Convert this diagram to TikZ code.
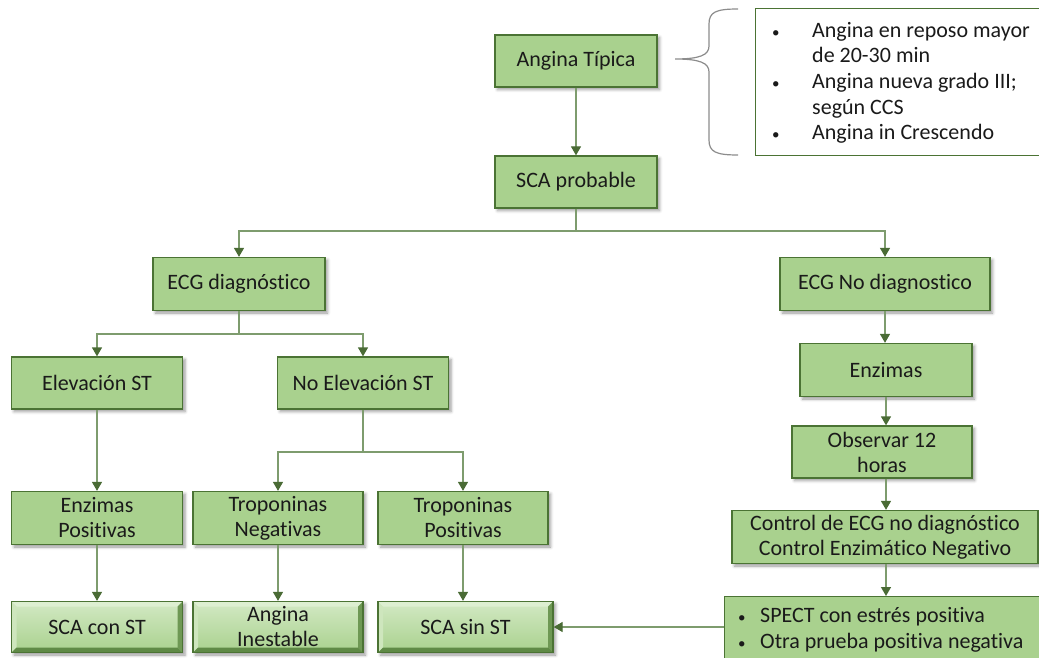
\documentclass[tikz,border=0pt]{standalone}
\usepackage{fontspec}
\setmainfont{Carlito}[Ligatures=NoCommon]
\usetikzlibrary{arrows.meta,shadows.blur,calc}

\definecolor{boxfill}{HTML}{A9D18E}
\definecolor{boxline}{HTML}{4B7334}
\definecolor{wire}{HTML}{7E9C6E}
\definecolor{tipc}{HTML}{4A6B35}
\definecolor{bevhi}{HTML}{DDEFD1}
\definecolor{bevlo}{HTML}{5F8A46}
\definecolor{braceclr}{HTML}{8C8C8C}
\definecolor{ink}{HTML}{1A1A1A}

\newcommand{\smallbul}{{\fontsize{15}{15}\selectfont\textbullet}}

\tikzset{
  txt/.style={font=\fontsize{22}{25}\selectfont, text=ink},
  gbox/.style={txt, rectangle, fill=boxfill, draw=boxline, line width=1.3pt,
    align=center, inner sep=0pt,
    blur shadow={shadow xshift=2.5pt, shadow yshift=-2.5pt,
      shadow blur radius=3pt, shadow opacity=40}},
  bevbox/.style={gbox, path picture={
    \coordinate (bsw) at (path picture bounding box.south west);
    \coordinate (bse) at (path picture bounding box.south east);
    \coordinate (bnw) at (path picture bounding box.north west);
    \coordinate (bne) at (path picture bounding box.north east);
    \fill[top color=bevhi!80!boxfill, bottom color=boxfill] (bsw) rectangle (bne);
    \fill[bevhi] (bnw) -- (bne) -- ([shift={(-5pt,-5pt)}]bne)
      -- ([shift={(5pt,-5pt)}]bnw) -- cycle;
    \fill[bevhi!70!boxfill] (bnw) -- ([shift={(5pt,-5pt)}]bnw)
      -- ([shift={(5pt,5pt)}]bsw) -- (bsw) -- cycle;
    \fill[bevlo!80!boxfill] (bne) -- (bse) -- ([shift={(-5pt,5pt)}]bse)
      -- ([shift={(-5pt,-5pt)}]bne) -- cycle;
    \fill[bevlo] (bsw) -- (bse) -- ([shift={(-5pt,5pt)}]bse)
      -- ([shift={(5pt,5pt)}]bsw) -- cycle;
  }},
  link/.style={draw=wire, line width=1.3pt},
  arr/.style={link, -{Triangle[width=10pt,length=9pt,fill=tipc,color=tipc]}},
}

\begin{document}
\begin{tikzpicture}[x=1pt, y=-1pt]
\useasboundingbox (0,0) rectangle (1039,658);
\clip (0,0) rectangle (1039,658);

% top of the flow
\node[gbox, minimum width=162pt, minimum height=52pt] (at) at (576,61) {Angina Típica};
\node[gbox, minimum width=162pt, minimum height=52pt] (sca) at (576,182) {SCA probable};

% criteria box with its brace
\draw[braceclr, line width=1.2pt]
  (738,9) .. controls (716,9) and (709,12) .. (709,24) -- (709,46)
  .. controls (709,55) and (700,59) .. (675,59)
  .. controls (700,59) and (709,63) .. (709,72) -- (709,140)
  .. controls (709,152) and (716,155) .. (738,155);
\node[draw=boxline, line width=1.3pt, fill=white, anchor=north west, inner sep=0pt,
      minimum width=300pt, minimum height=147pt] (crit) at (755,8) {};
\node[txt, font=\fontsize{22}{25.7}\selectfont, anchor=north west, inner sep=0pt, align=left]
  (crittext) at (772,19) {%
  \strut\makebox[40pt][l]{\smallbul}Angina en reposo mayor\\
  \strut\hspace*{40pt}de 20-30 min\\
  \strut\makebox[40pt][l]{\smallbul}Angina nueva grado III;\\
  \strut\hspace*{40pt}según CCS\\
  \strut\makebox[40pt][l]{\smallbul}Angina in Crescendo};

% second level
\node[gbox, minimum width=172pt, minimum height=53pt] (ecgd) at (239,284) {ECG diagnóstico};
\node[gbox, minimum width=210pt, minimum height=53pt] (ecgn) at (885,284) {ECG No diagnostico};

% left branch
\node[gbox, minimum width=171pt, minimum height=52pt] (elev) at (97,383) {Elevación ST};
\node[gbox, minimum width=171pt, minimum height=52pt] (noelev) at (363,383) {No Elevación ST};
\node[gbox, minimum width=171pt, minimum height=53pt] (enzP) at (97,518) {Enzimas\\Positivas};
\node[gbox, minimum width=170pt, minimum height=53pt] (tropN) at (278,518) {Troponinas\\Negativas};
\node[gbox, minimum width=170pt, minimum height=53pt] (tropP) at (463,518) {Troponinas\\Positivas};
\node[bevbox, minimum width=171pt, minimum height=51pt] (scacon) at (97,627) {SCA con ST};
\node[bevbox, minimum width=170pt, minimum height=51pt] (anginst) at (278,627) {Angina\\Inestable};
\node[bevbox, minimum width=175pt, minimum height=51pt] (scasin) at (465.5,627) {SCA sin ST};

% right branch
\node[gbox, minimum width=172pt, minimum height=53pt] (enzR) at (886,370) {Enzimas};
\node[gbox, minimum width=180pt, minimum height=52pt] (obs) at (882,452) {Observar 12\\horas};
\node[gbox, minimum width=306pt, minimum height=53pt] (ctrl) at (885,537)
  {Control de ECG no diagnóstico\\Control Enzimático Negativo};
\node[gbox, anchor=north west, minimum width=330pt, minimum height=80pt] (spect) at (724,596) {};
\node[txt, font=\fontsize{22}{26}\selectfont, anchor=north west, inner sep=0pt, align=left]
  (specttext) at (738,604) {%
  \strut\makebox[22pt][l]{\smallbul}SPECT con estrés positiva\\
  \strut\makebox[22pt][l]{\smallbul}Otra prueba positiva negativa};

% connectors
\draw[arr] (at) -- (sca);
\coordinate (j1) at (576,231);
\draw[link] (sca.south) -- (j1);
\draw[arr] (j1) -| (ecgd.north);
\draw[arr] (j1) -| (ecgn.north);

\coordinate (j2) at (239,334);
\draw[link] (ecgd.south) -- (j2);
\draw[arr] (j2) -| (elev.north);
\draw[arr] (j2) -| (noelev.north);

\draw[arr] (elev) -- (enzP);
\coordinate (j3) at (363,452);
\draw[link] (noelev.south) -- (j3);
\draw[arr] (j3) -| (tropN.north);
\draw[arr] (j3) -| (tropP.north);

\draw[arr] (enzP) -- (scacon);
\draw[arr] (tropN) -- (anginst);
\draw[arr] (tropP.south) -- (tropP.south |- scasin.north);

\draw[arr] (ecgn.south) -- (ecgn.south |- enzR.north);
\draw[arr] (enzR.south) -- (enzR.south |- obs.north);
\draw[arr] (obs.south -| enzR.south) -- (enzR.south |- ctrl.north);
\draw[arr] (ctrl.south -| enzR.south) -- (enzR.south |- spect.north);
\draw[arr] (spect.west |- scasin.east) -- (scasin.east);
\end{tikzpicture}
\end{document}
